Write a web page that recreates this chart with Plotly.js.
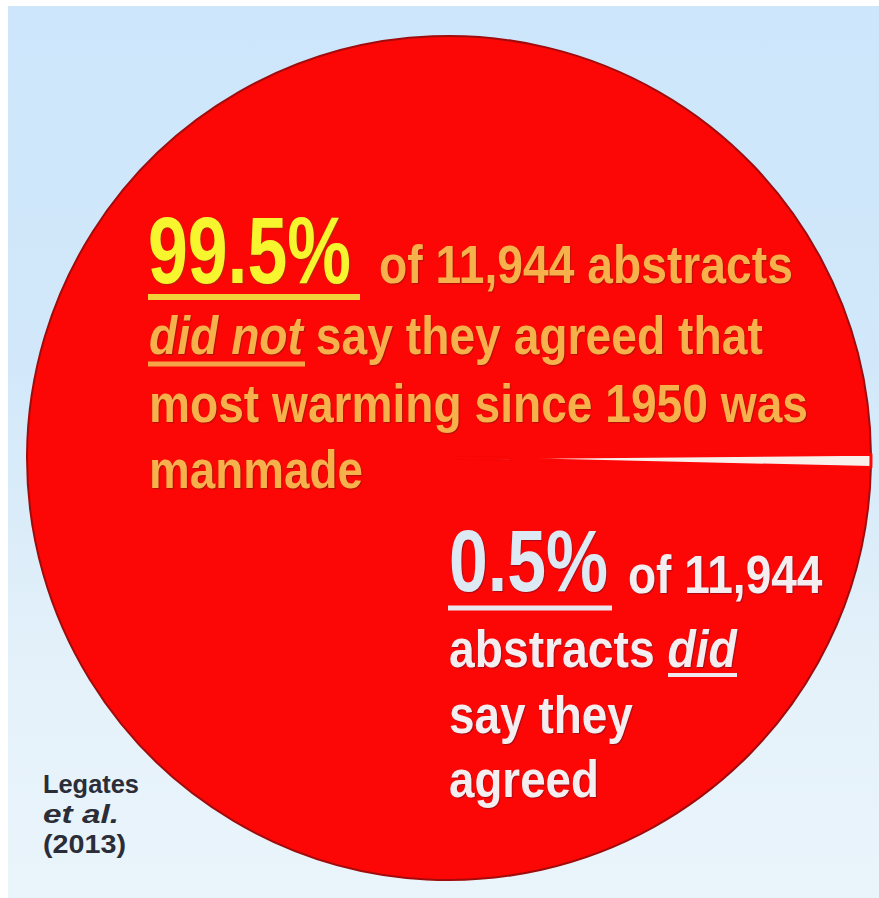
<!DOCTYPE html>
<html>
<head>
<meta charset="utf-8">
<script src="https://cdn.plot.ly/plotly-3.0.1.min.js"></script>
<style>
html,body{margin:0;padding:0;background:#ffffff;overflow:hidden;}
#bg{position:absolute;left:8px;top:6px;width:871px;height:892px;
  background:linear-gradient(to bottom,#cde6fb 0%,#d2e8fa 40%,#dcedf9 60%,#e6f2fa 78%,#e9f4fb 100%);}
#chart{position:absolute;left:0;top:0;width:879px;height:898px;}
</style>
</head>
<body>
<div id="bg"></div>
<div id="chart"></div>
<script>
// ---- data ----
const categories = ['Did not say they agreed', 'Said they agreed'];
const shares = [99.5, 0.5];
const sliceColors = ['#fd0606', '#f9f0ec'];
const abstractsTotal = '11,944';
const headlineMain = '99.5%';
const headlineMinor = '0.5%';
const mainLines = ['of ' + abstractsTotal + ' abstracts', '<i>did not</i> say they agreed that', 'most warming since 1950 was', 'manmade'];
const minorLines = ['of ' + abstractsTotal, 'abstracts <i>did</i>', 'say they', 'agreed'];
const sourceLines = ['Legates', '<i>et al.</i>', '(2013)'];

// ---- layout helpers ----
const W = 879, H = 898;
const FONT = 'Liberation Sans, Arial, sans-serif';
const cx = 449, cy = 458, R = 422;

// [text, left px, right px, baseline px, font size, colour, shadow]
const ORANGE = '#f6b04c';
const WHITE = '#f4eef1';
const shOr = '1px 1px 1px rgba(120,30,0,0.6)';
const shWh = '1px 1px 1px rgba(90,20,40,0.55)';
const textSpecs = [
  [headlineMain, 147, 350, 283, 95, '#f7f52e', '1px 1px 2px rgba(140,60,0,0.7)'],
  [mainLines[0], 378, 792, 283, 54, ORANGE, shOr],
  [mainLines[1], 148, 762, 354, 54, ORANGE, shOr],
  [mainLines[2], 148, 807, 422, 54, ORANGE, shOr],
  [mainLines[3], 148, 362, 488, 54, ORANGE, shOr],
  [headlineMinor, 448, 607, 591, 87, '#dde9f3', shWh],
  [minorLines[0], 627, 822, 593, 53, WHITE, shWh],
  [minorLines[1], 448, 737, 667, 52, WHITE, shWh],
  [minorLines[2], 448, 632, 733, 52, WHITE, shWh],
  [minorLines[3], 448, 598, 797, 52, WHITE, shWh],
  [sourceLines[0], 42, 138, 793, 26, '#2b2d38', 'none'],
  [sourceLines[1], 42, 118, 823, 26, '#2b2d38', 'none'],
  [sourceLines[2], 42, 125, 853, 26, '#2b2d38', 'none']
];

function ann(s) {
  const [text, x0, x1, base, size, color, shadow] = s;
  return {
    xref: 'paper', yref: 'paper',
    x: x0 / W, y: 1 - (base - 0.3465 * size) / H,
    xanchor: 'left', yanchor: 'middle', align: 'left',
    text: text, showarrow: false, borderpad: 0,
    font: {family: FONT, size: size, color: color, weight: 'bold', shadow: shadow}
  };
}
function uline(x0, x1, ypx, color, w) {
  return {type: 'line', xref: 'paper', yref: 'paper',
    x0: x0 / W, x1: x1 / W, y0: 1 - ypx / H, y1: 1 - ypx / H,
    line: {color: color, width: w}};
}

const trace = {
  type: 'pie',
  labels: categories,
  values: shares,
  sort: false,
  direction: 'clockwise',
  rotation: 91.3,
  textinfo: 'none',
  hoverinfo: 'none',
  showlegend: false,
  marker: {colors: sliceColors, line: {color: ['#a00c0c', '#fd0606'], width: [2, 3]}},
  domain: {x: [(cx - R) / W, (cx + R) / W], y: [(H - cy - R) / H, (H - cy + R) / H]}
};

const shapes = [
  uline(148, 360, 297, '#f2d23a', 6),
  uline(148, 305, 364, '#f4a346', 5),
  uline(448, 612, 608, '#ebe6ee', 5),
  uline(668, 737, 675, '#efe6ee', 4)
];

const layout = {
  width: W, height: H,
  margin: {l: 0, r: 0, t: 0, b: 0, pad: 0},
  paper_bgcolor: 'rgba(0,0,0,0)',
  plot_bgcolor: 'rgba(0,0,0,0)',
  annotations: textSpecs.map(ann),
  shapes: shapes
};

function condense() {
  document.querySelectorAll('#chart g.annotation').forEach(function (g) {
    const i = +g.getAttribute('data-index');
    const t = g.querySelector('text.annotation-text');
    if (!t || !textSpecs[i]) return;
    const bb = t.getBBox();
    if (!bb.width) return;
    const sx = (textSpecs[i][2] - textSpecs[i][1]) / bb.width;
    const prev = t.getAttribute('transform') || '';
    t.setAttribute('transform', prev + ' translate(' + (bb.x * (1 - sx)) + ',0) scale(' + sx + ',1)');
  });
}

Plotly.newPlot('chart', [trace], layout, {displayModeBar: false, staticPlot: true}).then(condense);
</script>
</body>
</html>
